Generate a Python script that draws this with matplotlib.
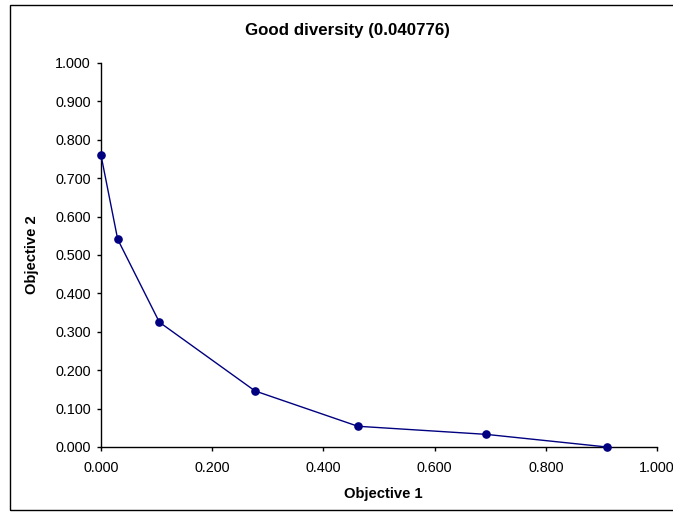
import matplotlib
matplotlib.use("Agg")
import matplotlib.pyplot as plt
from matplotlib.patches import Rectangle
from matplotlib.ticker import FormatStrFormatter, MultipleLocator

obj1 = [0.000, 0.030, 0.105, 0.277, 0.462, 0.692, 0.910]
obj2 = [0.760, 0.541, 0.325, 0.146, 0.054, 0.033, 0.000]
title = "Good diversity (0.040776)"

plt.rcParams['font.family'] = ['Liberation Sans', 'DejaVu Sans']

W, H = 673, 512
fig = plt.figure(figsize=(W/100, H/100), dpi=100)
fig.patches.append(Rectangle((10/W, 1 - 510/H), 1.0, (510-5)/H, transform=fig.transFigure,
                             fill=False, edgecolor='black', linewidth=1.0))
ax = fig.add_axes([101/W, 1 - 447/H, (657-101)/W, (447-63)/H])
ax.plot(obj1, obj2, color='#000080', linewidth=1.0, marker='o', markersize=5.2,
        markerfacecolor='#000080', markeredgecolor='#000080', clip_on=False, zorder=3)
ax.set_xlim(0, 1)
ax.set_ylim(0, 1)
ax.xaxis.set_major_locator(MultipleLocator(0.2))
ax.yaxis.set_major_locator(MultipleLocator(0.1))
ax.xaxis.set_major_formatter(FormatStrFormatter('%.3f'))
ax.yaxis.set_major_formatter(FormatStrFormatter('%.3f'))
for s in ['top', 'right']:
    ax.spines[s].set_visible(False)
for s in ['left', 'bottom']:
    ax.spines[s].set_linewidth(1.0)
ax.tick_params(direction='out', length=2.9, width=1.0, labelsize=10.4)
ax.tick_params(axis='x', pad=7.2)
ax.tick_params(axis='y', pad=4.3)
ax.set_xlabel('Objective 1', fontsize=10.6, fontweight='bold')
ax.xaxis.set_label_coords(0.507, -0.104)
ax.set_ylabel('Objective 2', fontsize=10.6, fontweight='bold', labelpad=12)
fig.text(347/W, 1 - 30/H, title, ha='center', va='center', fontsize=12.2, fontweight='bold')
fig.savefig('out.png', dpi=100)
